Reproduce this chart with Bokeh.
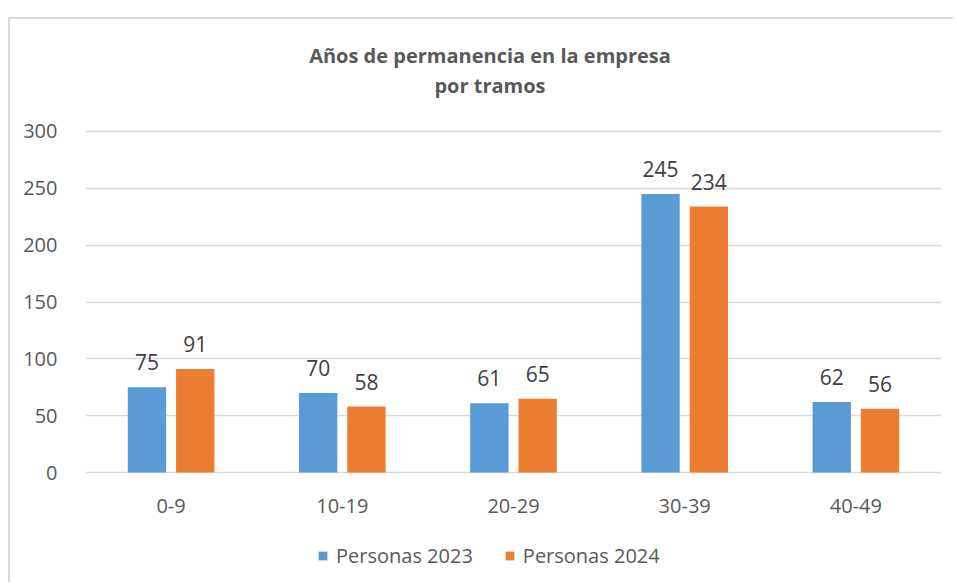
from bokeh.plotting import figure
from bokeh.models import (ColumnDataSource, FactorRange, Range1d, FixedTicker,
                          Legend, LegendItem, LabelSet, Label)
from bokeh.core.properties import value
from bokeh.transform import dodge
from bokeh.embed import file_html
from bokeh.resources import INLINE

categories = ["0-9", "10-19", "20-29", "30-39", "40-49"]
personas_2023 = [75, 70, 61, 245, 62]
personas_2024 = [91, 58, 65, 234, 56]
y_ticks = [0, 50, 100, 150, 200, 250, 300]
series_names = ["Personas 2023", "Personas 2024"]
title_lines = ["Años de permanencia en la empresa", "por tramos"]

BLUE = "#5B9BD5"
ORANGE = "#ED7D31"
TXT = "#595959"
FONT = "Open Sans"

src = ColumnDataSource(dict(
    cat=categories,
    a=personas_2023,
    b=personas_2024,
    la=[str(v) for v in personas_2023],
    lb=[str(v) for v in personas_2024],
    zero=[0] * len(categories),
))

# the frame spans the whole chart area; grid and ticks only cover 0..300
p = figure(
    x_range=FactorRange(*categories),
    y_range=Range1d(-98.5, 398.5),
    width=945, height=565,
    output_backend="svg", toolbar_location=None,
    min_border_left=75, min_border_right=14,
    min_border_top=0, min_border_bottom=0,
    title=None,
)
p.styles = {"margin-top": "17px", "margin-left": "8px",
            "border-top": "2px solid #d9d9d9", "border-left": "2px solid #d9d9d9"}
p.outline_line_color = None
p.background_fill_color = "white"
p.border_fill_color = "white"

# two-line title, centred on the chart area
top_tick = y_ticks[-1]
mid_x = len(categories) / 2
for t, dy in zip(title_lines, (76, 46)):
    p.add_layout(Label(x=mid_x, y=top_tick, x_offset=-23.5, y_offset=dy, text=t,
                       text_align="center", text_baseline="middle",
                       text_font=FONT, text_font_size="20px",
                       text_font_style="bold", text_color=TXT))

off = 0.141
bw = 0.224
r1 = p.vbar(x=dodge("cat", -off, range=p.x_range), top="a", width=bw,
            source=src, fill_color=BLUE, line_color=None)
r2 = p.vbar(x=dodge("cat", off, range=p.x_range), top="b", width=bw,
            source=src, fill_color=ORANGE, line_color=None)

for col, lab, d in (("a", "la", -off), ("b", "lb", off)):
    p.add_layout(LabelSet(x=dodge("cat", d, range=p.x_range), y=col, text=lab,
                          source=src, text_align="center", text_baseline="alphabetic",
                          y_offset=17, text_font=value(FONT), text_font_size="21px",
                          text_color="#404040"))

# category labels under the zero line
p.add_layout(LabelSet(x=dodge("cat", 0, range=p.x_range), y="zero", text="cat",
                      source=src, text_align="center", text_baseline="middle",
                      y_offset=-33, text_font=value(FONT), text_font_size="20px",
                      text_color=TXT))

p.yaxis.ticker = FixedTicker(ticks=y_ticks)
p.yaxis.axis_line_color = None
p.yaxis.major_tick_line_color = None
p.yaxis.minor_tick_line_color = None
p.yaxis.major_label_standoff = 22
p.yaxis.major_label_text_font = FONT
p.yaxis.major_label_text_font_size = "20px"
p.yaxis.major_label_text_color = TXT

p.xaxis.visible = False
p.xgrid.grid_line_color = None
p.ygrid.ticker = FixedTicker(ticks=y_ticks)
p.ygrid.grid_line_color = "#d9d9d9"
p.ygrid.grid_line_width = 1.5

legend = Legend(items=[LegendItem(label=series_names[0], renderers=[r1]),
                       LegendItem(label=series_names[1], renderers=[r2])],
                orientation="horizontal", location=(232, 15),
                glyph_width=11, glyph_height=11, label_standoff=8, spacing=31,
                label_text_font=FONT, label_text_font_size="20px",
                label_text_color=TXT, border_line_color=None,
                background_fill_alpha=0, padding=4, margin=0)
p.add_layout(legend, "center")

open("out.html", "w").write(file_html(p, INLINE))
